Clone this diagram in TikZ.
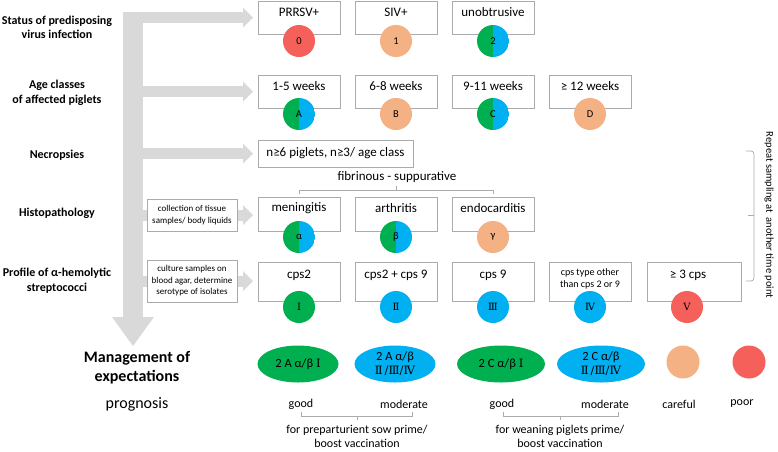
\documentclass[tikz,border=0pt]{standalone}
\usepackage{fontspec}
\setmainfont{Carlito}
\newfontfamily\cjk{DejaVu Serif}
\usetikzlibrary{shapes.geometric}
\definecolor{cred}{HTML}{F5605B}
\definecolor{cpeach}{HTML}{F4B183}
\definecolor{cgreen}{HTML}{00B050}
\definecolor{cblue}{HTML}{00B0F0}
\definecolor{agray}{HTML}{D9D9D9}
\definecolor{boxgray}{HTML}{ABABAB}
\tikzset{
  boxnode/.style={draw=boxgray, line width=0.8pt, fill=white, inner sep=0pt, minimum width=82pt, minimum height=33pt},
  btxt/.style={font=\fontsize{13}{15}\selectfont, inner sep=0pt},
  smallbox/.style={draw=boxgray, line width=0.8pt, fill=white, inner sep=0pt, minimum width=90pt, align=center, font=\fontsize{9}{11.5}\selectfont},
  dot/.style={circle, inner sep=0pt, minimum size=32pt, font=\fontsize{10.5}{12}\selectfont},
  lbl/.style={font=\bfseries\fontsize{12}{14.5}\selectfont, align=center, inner sep=0pt},
  ell/.style={ellipse, inner sep=0pt, minimum height=37pt, align=center, font=\fontsize{12.5}{14}\selectfont},
  prog/.style={font=\fontsize{12}{14}\selectfont, inner sep=0pt},
  brk/.style={draw=boxgray, line width=0.7pt},
  rom/.style={font=\cjk\fontsize{10}{12}\selectfont},
}
\newcommand\halfdot[4]{% name, x, y, label
  \begin{scope}
    \clip (#2,#3) circle[radius=16pt];
    \fill[cgreen] (#2-16,#3-16) rectangle (#2,#3+16);
    \fill[cblue] (#2,#3-16) rectangle (#2+16,#3+16);
  \end{scope}
  \node[dot] (#1) at (#2,#3) {#4};
}
\newcommand\grayarrow[3]{% from x, to x (tip), y
  \fill[agray] (#1,#3-5.5) rectangle (#2-10,#3+5.5);
  \fill[agray] (#2-10,#3-10) -- (#2,#3) -- (#2-10,#3+10) -- cycle;
}
\begin{document}
\begin{tikzpicture}[x=1pt,y=-1pt]
\useasboundingbox[fill=white] (0,0) rectangle (778,451);

% ---- gray trunk and branches
\fill[agray] (123,12) rectangle (143,317);
\fill[agray] (112,317) -- (154,317) -- (133,346) -- cycle;
\coordinate (tip) at (133,346);
\grayarrow{140}{253}{17.5}
\grayarrow{140}{253}{91.5}
\grayarrow{140}{253}{153.5}
\fill[agray] (140,209.5) rectangle (148,220.5);
\fill[agray] (140,275.5) rectangle (148,286.5);
\grayarrow{236}{253}{215}
\grayarrow{236}{253}{281}

% ---- left labels
\node[lbl] (l1) at (57,27.5) {Status of predisposing\\virus infection};
\node[lbl] (l2) at (57,93) {Age classes\\of affected piglets};
\node[lbl] (l3) at (57,155) {Necropsies};
\node[lbl] (l4) at (57,213) {Histopathology};
\node[lbl] (l5) at (57,280.5) {Profile of α-hemolytic\\streptococci};
\node[font=\bfseries\fontsize{16}{19}\selectfont, align=center, inner sep=0pt] (l6) at (137,368) {Management of\\expectations};
\node[font=\fontsize{16}{18}\selectfont, inner sep=0pt] (l7) at (137,404) {prognosis};

% ---- small boxes
\node[smallbox, minimum height=32pt] (s4) at (192,215) {collection of tissue\\samples/ body liquids};
\node[smallbox, minimum height=42pt] (s5) at (192,281) {culture samples on\\blood agar, determine\\serotype of isolates};

% ---- row 1
\node[boxnode] (b11) at (299,17.5) {};
\node[boxnode] (b12) at (396,17.5) {};
\node[boxnode] (b13) at (493,17.5) {};
\node[btxt] at (299,12) {PRRSV+};
\node[btxt] at (396,12) {SIV+};
\node[btxt] at (493,12) {unobtrusive};
\node[dot, fill=cred] (c11) at (299,41) {0};
\node[dot, fill=cpeach] (c12) at (396,41) {1};
\halfdot{c13}{493}{41}{2}

% ---- row 2
\node[boxnode] (b21) at (299,91.5) {};
\node[boxnode] (b22) at (396,91.5) {};
\node[boxnode] (b23) at (493,91.5) {};
\node[boxnode] (b24) at (590,91.5) {};
\node[btxt] at (299,86) {1-5 weeks};
\node[btxt] at (396,86) {6-8 weeks};
\node[btxt] at (493,86) {9-11 weeks};
\node[btxt] at (590,86) {≥ 12 weeks};
\halfdot{c21}{299}{114}{A}
\node[dot, fill=cpeach] (c22) at (396,114) {B};
\halfdot{c23}{493}{114}{C}
\node[dot, fill=cpeach] (c24) at (590,114) {D};

% ---- row 3
\node[boxnode, minimum width=155pt, minimum height=27pt] (b31) at (335.5,153.5) {};
\node[btxt] at (335.5,153.5) {n≥6 piglets, n≥3/ age class};
\node[btxt] (fib) at (397,177) {fibrinous - suppurative};
\draw[brk] (299,194) -- (299,190) -- (493,190) -- (493,194);
\draw[brk] (396,190) -- (396,186);

% ---- row 4
\node[boxnode, minimum height=34pt] (b41) at (299,214) {};
\node[boxnode, minimum height=34pt] (b42) at (396,214) {};
\node[boxnode, minimum height=34pt] (b43) at (493,214) {};
\node[btxt] at (299,208) {meningitis};
\node[btxt] at (396,208) {arthritis};
\node[btxt] at (493,208) {endocarditis};
\halfdot{c41}{299}{237}{α}
\halfdot{c42}{396}{237}{β}
\node[dot, fill=cpeach] (c43) at (493,237) {γ};

% ---- row 5
\node[boxnode, minimum height=39pt] (b51) at (299,281.5) {};
\node[boxnode, minimum height=39pt] (b52) at (396,281.5) {};
\node[boxnode, minimum height=39pt] (b53) at (493,281.5) {};
\node[boxnode, minimum height=39pt] (b54) at (590,281.5) {};
\node[boxnode, minimum height=39pt, minimum width=94pt] (b55) at (694,281.5) {};
\node[btxt] at (299,275) {cps2};
\node[btxt] at (396,275) {cps2 + cps 9};
\node[btxt] at (493,275) {cps 9};
\node[font=\fontsize{10}{12.5}\selectfont, align=center, inner sep=0pt] at (590,279) {cps type other\\than cps 2 or 9};
\node[btxt] at (688,275) {≥ 3 cps};
\node[dot, fill=cgreen, rom] (c51) at (299,307) {Ⅰ};
\node[dot, fill=cblue, rom] (c52) at (396,307) {Ⅱ};
\node[dot, fill=cblue, rom] (c53) at (493,307) {Ⅲ};
\node[dot, fill=cblue, rom] (c54) at (590,307) {Ⅳ};
\node[dot, fill=cred, rom] (c55) at (687,307) {Ⅴ};

% ---- right bracket
\draw[brk, rounded corners=3pt] (746,151) -- (754,151) -- (754,281) -- (746,281);
\draw[brk] (754,215) -- (748,215);
\node[font=\fontsize{10.5}{12}\selectfont, rotate=-90, inner sep=0pt] (rep) at (769,215) {Repeat sampling at\, another time point};

% ---- management row
\node[ell, fill=cgreen, minimum width=81pt] (e1) at (298,364) {2 A α/β {\cjk\fontsize{11.5}{14}\selectfont Ⅰ}};
\node[ell, fill=cblue, minimum width=81pt] (e2) at (395,364) {2 A α/β\\{\cjk\fontsize{11.5}{14}\selectfont Ⅱ\,/Ⅲ/Ⅳ}};
\node[ell, fill=cgreen, minimum width=88pt] (e3) at (501,364) {2 C α/β {\cjk\fontsize{11.5}{14}\selectfont Ⅰ}};
\node[ell, fill=cblue, minimum width=88pt] (e4) at (601,364) {2 C α/β\\{\cjk\fontsize{11.5}{14}\selectfont Ⅱ\,/Ⅲ/Ⅳ}};
\node[circle, fill=cpeach, minimum size=33pt, inner sep=0pt] (e5) at (683,362) {};
\node[circle, fill=cred, minimum size=33pt, inner sep=0pt] (e6) at (749,362) {};

\node[prog] (p1) at (301,404) {good};
\node[prog] (p2) at (404,404) {moderate};
\node[prog] (p3) at (502,404) {good};
\node[prog] (p4) at (605,404) {moderate};
\node[prog] (p5) at (679,404) {careful};
\node[prog] (p6) at (742,404) {poor};

\draw[brk] (301,412) -- (301,416) -- (412,416) -- (412,412);
\draw[brk] (357,416) -- (357,420);
\draw[brk] (503,412) -- (503,416) -- (618,416) -- (618,412);
\draw[brk] (560,416) -- (560,420);
\node[prog, align=center] (v1) at (357,436) {for preparturient sow prime/\\boost vaccination};
\node[prog, align=center] (v2) at (560,436) {for weaning piglets prime/\\boost vaccination};
\end{tikzpicture}
\end{document}
